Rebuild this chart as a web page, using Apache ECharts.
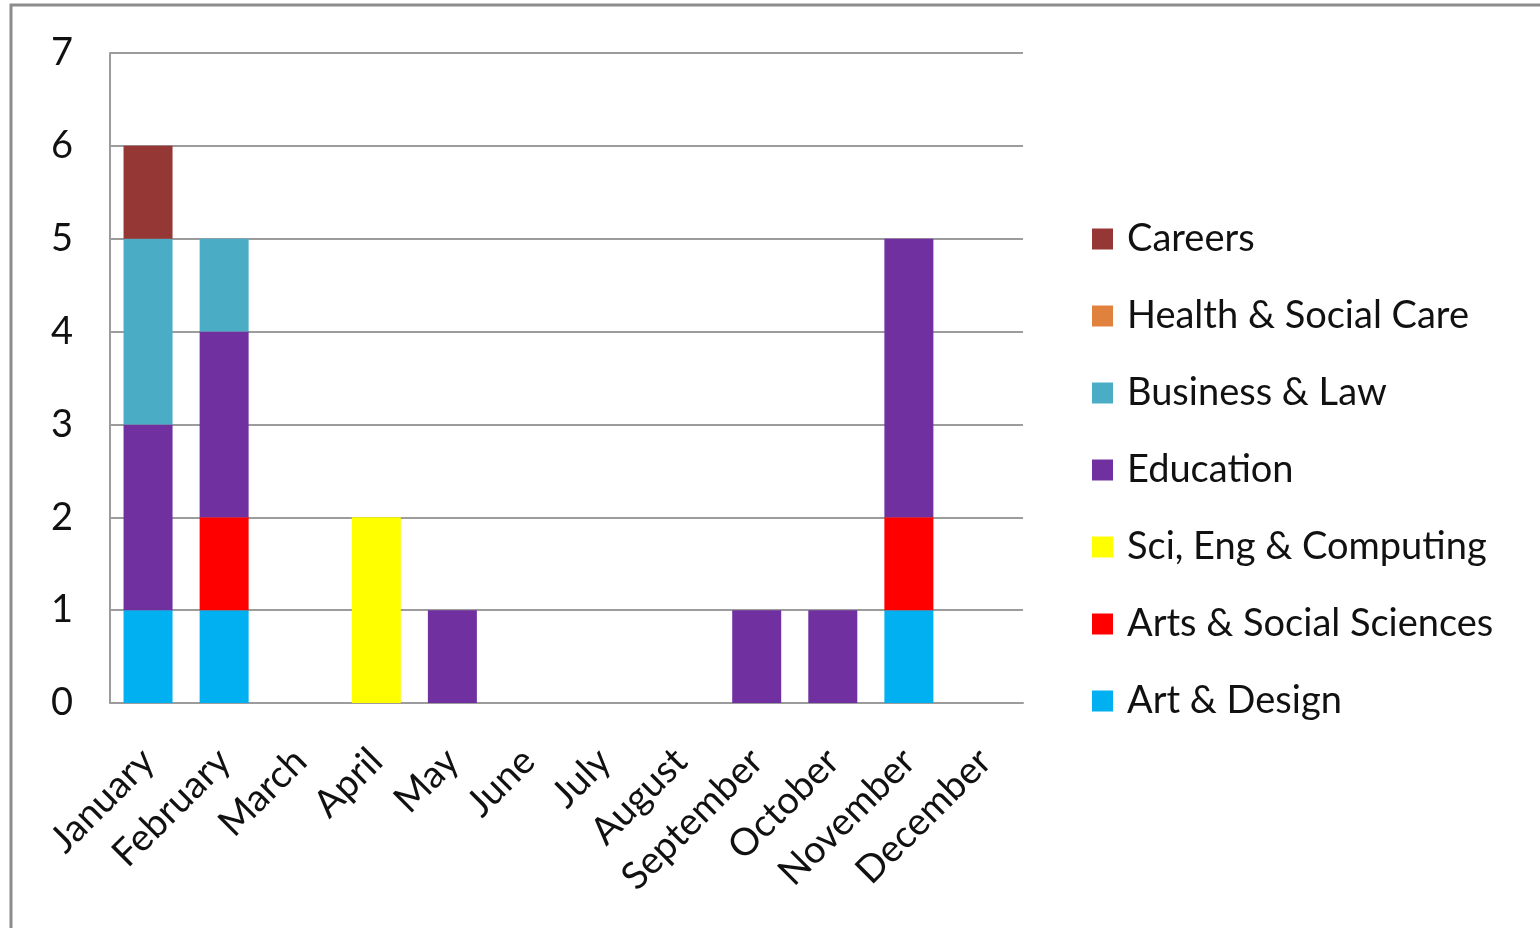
<!DOCTYPE html>
<html>
<head>
<meta charset="utf-8">
<script src="https://cdn.jsdelivr.net/npm/echarts@6/dist/echarts.min.js"></script>
<style>
  html, body { margin: 0; padding: 0; background: #fff; }
  #chart { width: 1540px; height: 928px; }
</style>
</head>
<body>
<div id="chart"></div>
<script>
// Months along the category axis
const months = ['January', 'February', 'March', 'April', 'May', 'June',
  'July', 'August', 'September', 'October', 'November', 'December'];

// Event counts per subject area, one value per month (stacked bottom to top)
const artDesign      = [1, 1, 0, 0, 0, 0, 0, 0, 0, 0, 1, 0];
const artsSocialSci  = [0, 1, 0, 0, 0, 0, 0, 0, 0, 0, 1, 0];
const sciEngComputing= [0, 0, 0, 2, 0, 0, 0, 0, 0, 0, 0, 0];
const education      = [2, 2, 0, 0, 1, 0, 0, 0, 1, 1, 3, 0];
const businessLaw    = [2, 1, 0, 0, 0, 0, 0, 0, 0, 0, 0, 0];
const healthSocial   = [0, 0, 0, 0, 0, 0, 0, 0, 0, 0, 0, 0];
const careers        = [1, 0, 0, 0, 0, 0, 0, 0, 0, 0, 0, 0];

// Value-axis ticks
const yTicks = [0, 1, 2, 3, 4, 5, 6, 7];

const FONT = 'Lato';
const TEXT_SIZE = 38;

const seriesDefs = [
  { name: 'Art & Design', data: artDesign, color: '#00B0F0' },
  { name: 'Arts & Social Sciences', data: artsSocialSci, color: '#FF0000' },
  { name: 'Sci, Eng & Computing', data: sciEngComputing, color: '#FFFF00' },
  { name: 'Education', data: education, color: '#7030A0' },
  { name: 'Business & Law', data: businessLaw, color: '#4BACC6' },
  { name: 'Health & Social Care', data: healthSocial, color: '#E0823D' },
  { name: 'Careers', data: careers, color: '#953735' }
];

const chart = echarts.init(document.getElementById('chart'), null, { renderer: 'canvas' });

chart.setOption({
  animation: false,
  backgroundColor: '#ffffff',
  graphic: [{
    type: 'rect',
    shape: { x: 11, y: 5, width: 1700, height: 1100 },
    style: { fill: 'none', stroke: '#8c8c8c', lineWidth: 3 },
    silent: true
  }],
  grid: { left: 110, right: 517, top: 53, bottom: 225, containLabel: false },
  legend: {
    orient: 'vertical',
    left: 1092,
    top: 219,
    padding: 0,
    itemWidth: 21,
    itemHeight: 21,
    itemGap: 37,
    icon: 'rect',
    data: seriesDefs.map(s => s.name).reverse(),
    textStyle: { fontFamily: FONT, fontSize: TEXT_SIZE, color: '#111', lineHeight: 40, padding: [0, 0, 0, 9] }
  },
  xAxis: {
    type: 'category',
    data: months,
    axisLine: { lineStyle: { color: '#9c9c9c', width: 2 } },
    axisTick: { show: false },
    axisLabel: {
      interval: 0,
      rotate: 45,
      margin: 52,
      fontFamily: FONT,
      fontSize: TEXT_SIZE,
      color: '#111'
    }
  },
  yAxis: {
    type: 'value',
    min: yTicks[0],
    max: yTicks[yTicks.length - 1],
    interval: 1,
    axisLine: { show: true, lineStyle: { color: '#9c9c9c', width: 2 } },
    axisTick: { show: false },
    splitLine: { lineStyle: { color: '#9c9c9c', width: 2 } },
    axisLabel: {
      margin: 37,
      fontFamily: FONT,
      fontSize: TEXT_SIZE,
      color: '#111'
    }
  },
  series: seriesDefs.map(s => ({
    name: s.name,
    type: 'bar',
    stack: 'total',
    barWidth: 49,
    data: s.data,
    itemStyle: { color: s.color },
    emphasis: { disabled: true }
  }))
});
</script>
</body>
</html>
